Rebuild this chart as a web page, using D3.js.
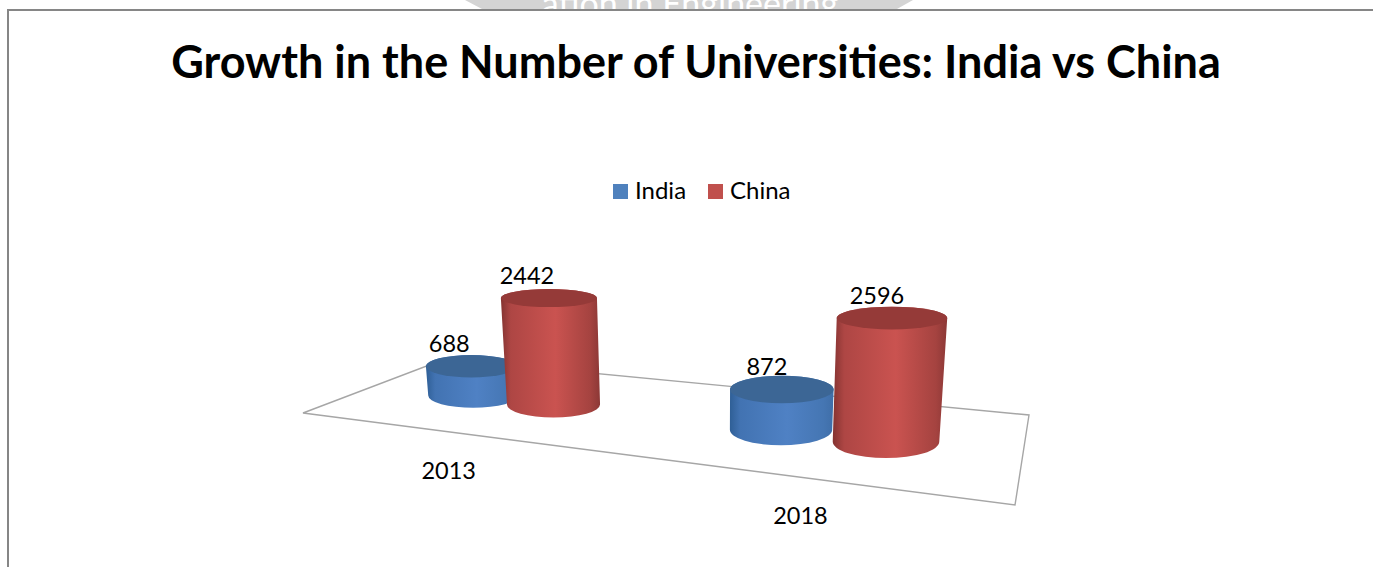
<!DOCTYPE html>
<html>
<head>
<meta charset="utf-8">
<script src="https://cdn.jsdelivr.net/npm/d3@7"></script>
<style>
  html, body { margin: 0; padding: 0; background: #fff; overflow: hidden; }
  text { font-family: Lato, "Open Sans", sans-serif; fill: #000; }
</style>
</head>
<body>
<svg id="chart" width="1373" height="567"></svg>
<script>
const years = ["2013", "2018"];
const seriesNames = ["India", "China"];
const india = [688, 872];
const china = [2442, 2596];
const seriesValues = [india, china];
const chartTitle = "Growth in the Number of Universities: India vs China";

const bodyStops = {
  India: ["#2f5f96", "#4f81c4", "#3f6ea8"],
  China: ["#843331", "#ca5350", "#8c3836"]
};
const capFill = { India: "#3c6695", China: "#953a38" };
const swatchFill = { India: "#4f81bd", China: "#c0504d" };

const svg = d3.select("#chart");

// Frame and the band of the page header clipped above it
svg.append("path")
  .attr("d", "M465,0 L913,0 L897,9 L482,9 Z")
  .attr("fill", "#d4d4d4");
svg.append("text")
  .attr("x", 690).attr("y", 16)
  .attr("text-anchor", "middle")
  .attr("font-size", 34)
  .style("fill", "#fff")
  .text("ation in Engineering");
svg.append("rect").attr("x", 0).attr("y", 9).attr("width", 1373).attr("height", 558).attr("fill", "#fff");
svg.append("path")
  .attr("d", "M8,567 L8,10 L1373,10")
  .attr("fill", "none")
  .attr("stroke", "#868686")
  .attr("stroke-width", 2);

svg.append("text")
  .attr("x", 696).attr("y", 78)
  .attr("text-anchor", "middle")
  .attr("font-size", 45)
  .attr("font-weight", 700)
  .text(chartTitle);

// Legend
const legend = svg.append("g");
const legendX = d3.scaleOrdinal().domain(seriesNames).range([613, 708]);
seriesNames.forEach(name => {
  legend.append("rect")
    .attr("x", legendX(name)).attr("y", 184)
    .attr("width", 15).attr("height", 15)
    .attr("fill", swatchFill[name]);
  legend.append("text")
    .attr("x", legendX(name) + 22).attr("y", 199)
    .attr("font-size", 24)
    .text(name);
});

// Perspective map from the unit floor (u along the years, v into depth) to the page
const corners = [[303, 413], [1015, 505], [1029, 415], [445, 359]];
function homography(q) {
  const [[x0, y0], [x1, y1], [x2, y2], [x3, y3]] = q;
  const dx1 = x1 - x2, dx2 = x3 - x2, sx = x0 - x1 + x2 - x3;
  const dy1 = y1 - y2, dy2 = y3 - y2, sy = y0 - y1 + y2 - y3;
  const det = dx1 * dy2 - dx2 * dy1;
  const g = (sx * dy2 - dx2 * sy) / det;
  const h = (dx1 * sy - sx * dy1) / det;
  const a = x1 - x0 + g * x1, b = x3 - x0 + h * x3;
  const d = y1 - y0 + g * y1, e = y3 - y0 + h * y3;
  return (u, v) => {
    const w = g * u + h * v + 1;
    return [(a * u + b * v + x0) / w, (d * u + e * v + y0) / w];
  };
}
const floorPoint = homography(corners);

svg.append("path")
  .attr("d", d3.line()(corners) + "Z")
  .attr("fill", "none")
  .attr("stroke", "#a6a6a6")
  .attr("stroke-width", 1.4);

// Positions along the floor: a band per year, a sub-band per series
const yearBand = d3.scaleBand().domain(years).range([0.008, 1.008]).paddingInner(0.18).paddingOuter(0.09);
const seriesBand = d3.scaleBand().domain(seriesNames)
  .range([yearBand.bandwidth() * 0.15, yearBand.bandwidth() * 0.85]).padding(0);
const floorDepth = 0.47;

// Value to column height at the front of the chart; shrinks with distance
const heightScale = d3.scaleLinear().domain([0, 2600]).range([0, 126]);
const depthScale = d3.scaleLinear().domain([400, 450]).range([0.89, 1.0]);
const radiusScale = d3.scaleLinear().domain([396, 440]).range([45, 53]);
// The camera looks down less steeply at things higher up the page
const tiltAt = d3.scaleLinear().domain([300, 440]).range([0.19, 0.31]);
const vanishX = 710, leanRate = 0.000275, flare = 0.0003;

const defs = svg.append("defs");
const columns = [];
seriesNames.forEach((name, s) => {
  years.forEach((year, y) => {
    const [bx, by] = floorPoint(yearBand(year) + seriesBand(name) + seriesBand.bandwidth() / 2, floorDepth);
    const value = seriesValues[s][y];
    const height = heightScale(value) * depthScale(by);
    const tx = bx + (bx - vanishX) * leanRate * height;
    const ty = by - height;
    const r0 = radiusScale(by);
    const r1 = r0 * (1 + flare * height);
    columns.push({ name, year, value, bx, by, tx, ty, r0, r1,
      ry0: r0 * tiltAt(by), ry1: r1 * tiltAt(ty) });
  });
});

// Each column is drawn behind the one further along its year, so China overlaps India
columns.sort((a, b) => d3.ascending(a.year, b.year) || d3.ascending(seriesNames.indexOf(a.name), seriesNames.indexOf(b.name)));
columns.forEach((c, i) => {
  const id = "body" + i;
  const grad = defs.append("linearGradient").attr("id", id).attr("x1", 0).attr("x2", 1).attr("y1", 0).attr("y2", 0);
  const stops = bodyStops[c.name];
  [[0, stops[0]], [0.1, d3.interpolateRgb(stops[0], stops[1])(0.6)], [0.55, stops[1]], [0.9, d3.interpolateRgb(stops[2], stops[1])(0.4)], [1, stops[2]]]
    .forEach(([o, col]) => grad.append("stop").attr("offset", o).attr("stop-color", col));
  const g = svg.append("g");
  g.append("path")
    .attr("d", `M${c.tx - c.r1},${c.ty} L${c.bx - c.r0},${c.by} A${c.r0},${c.ry0} 0 0 0 ${c.bx + c.r0},${c.by} L${c.tx + c.r1},${c.ty} A${c.r1},${c.ry1} 0 0 0 ${c.tx - c.r1},${c.ty} Z`)
    .attr("fill", `url(#${id})`);
  g.append("ellipse")
    .attr("cx", c.tx).attr("cy", c.ty)
    .attr("rx", c.r1).attr("ry", c.ry1)
    .attr("fill", capFill[c.name]);
});

// Value labels sit over each column's cap
const labelShift = d3.scaleOrdinal().domain(years).range([-22, -15]);
columns.forEach(c => {
  svg.append("text")
    .attr("x", c.tx + labelShift(c.year)).attr("y", c.ty - 14)
    .attr("text-anchor", "middle")
    .attr("font-size", 23.5)
    .text(c.value);
});

// Year labels run along the front edge of the floor
years.forEach(year => {
  const [fx, fy] = floorPoint(yearBand(year) + yearBand.bandwidth() / 2, 0);
  svg.append("text")
    .attr("x", fx).attr("y", fy + 47)
    .attr("text-anchor", "middle")
    .attr("font-size", 23.5)
    .text(year);
});
</script>
</body>
</html>
